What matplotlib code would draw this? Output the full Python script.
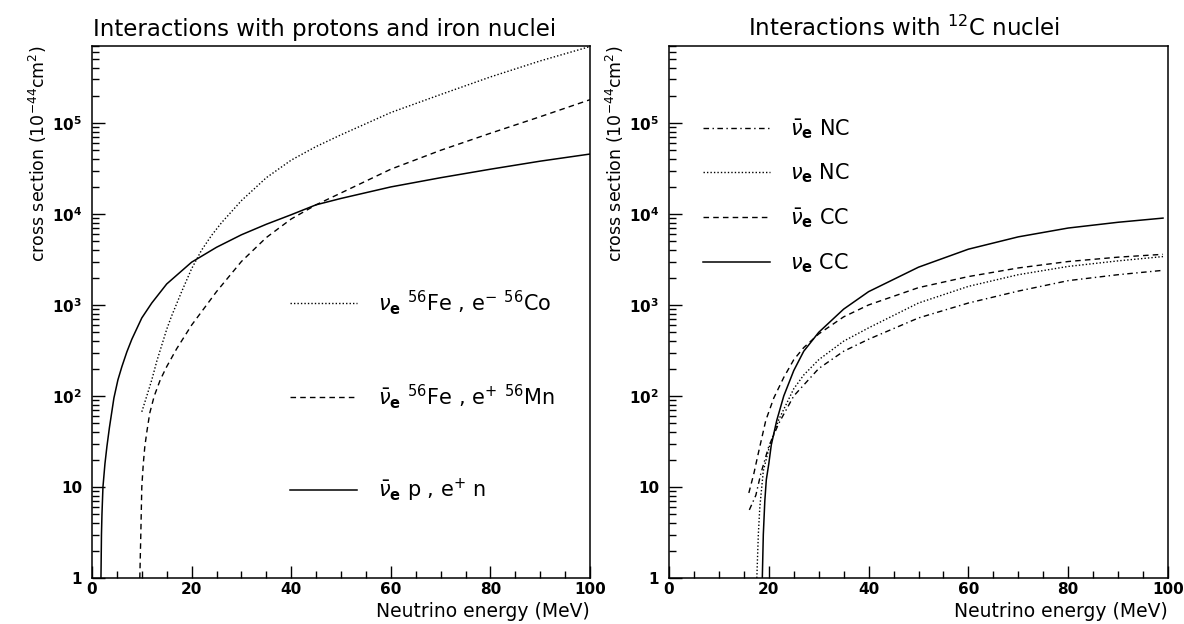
import matplotlib
matplotlib.use("Agg")
import matplotlib.pyplot as plt
from matplotlib.ticker import FixedLocator, FixedFormatter, MultipleLocator, LogLocator, NullFormatter

# ---------------- data (left panel) ----------------
e_nubar_p = [1.8, 1.9, 2.0, 2.2, 2.6, 3.0, 3.5, 4.4, 5.2, 6, 7, 8, 10, 12, 15, 20, 25, 30, 35, 40, 45, 50, 60, 70, 80, 90, 100]
s_nubar_p = [1, 3, 5, 10, 18, 28, 45, 95, 150, 210, 305, 420, 720, 1050, 1700, 2950, 4300, 5900, 7700, 9800, 12600, 14800, 19800, 25000, 31000, 38000, 45500]

e_nu_fe = [10.0, 11, 12, 13, 14, 15, 16, 18, 20, 22, 24, 26, 30, 35, 40, 45, 50, 60, 70, 80, 90, 100]
s_nu_fe = [67, 100, 150, 240, 360, 540, 760, 1400, 2500, 4000, 5800, 8000, 14000, 25000, 39000, 55000, 74000, 130000, 205000, 320000, 480000, 690000]

e_nubar_fe = [9.6, 9.8, 10.0, 10.3, 10.6, 11.0, 11.6, 12.5, 13.7, 15, 17, 20, 25, 30, 35, 40, 45, 50, 60, 70, 80, 90, 100]
s_nubar_fe = [1, 3, 10, 18, 27.6, 40, 65, 100, 150, 210, 330, 600, 1400, 3000, 5500, 8800, 12600, 17000, 31000, 50000, 77000, 117000, 180000]

# ---------------- data (right panel, 12C) ----------------
e_nue_cc = [18.7, 18.9, 19.2, 19.5, 20.0, 20.5, 21.6, 23, 25, 27, 30, 35, 40, 50, 60, 70, 80, 90, 99]
s_nue_cc = [1, 3, 7, 12, 18, 29, 54, 100, 190, 310, 500, 900, 1400, 2600, 4100, 5600, 7000, 8100, 9000]

e_nubar_cc = [16.0, 17.0, 17.9, 19.4, 21, 23, 25, 27, 30, 35, 40, 50, 60, 70, 80, 90, 99]
s_nubar_cc = [8.6, 14, 23.5, 54, 95, 160, 250, 340, 480, 740, 1000, 1550, 2050, 2550, 3000, 3350, 3600]

e_nue_nc = [17.6, 17.9, 18.2, 18.9, 20.2, 22, 25, 27, 30, 35, 40, 50, 60, 70, 80, 90, 99]
s_nue_nc = [1, 3, 6, 15, 29, 55, 120, 170, 250, 400, 560, 1050, 1600, 2150, 2650, 3050, 3400]

e_nubar_nc = [16.1, 17.4, 18.4, 20, 22, 25, 30, 35, 40, 50, 60, 70, 80, 90, 99]
s_nubar_nc = [5.6, 8.1, 14, 28, 50, 100, 200, 310, 420, 720, 1050, 1420, 1850, 2150, 2400]

# ---------------- labels ----------------
ytick_values = [1, 10, 100, 1000, 10000, 100000]
ytick_labels = ["1", "10", r"$\mathbf{10^{2}}$", r"$\mathbf{10^{3}}$", r"$\mathbf{10^{4}}$", r"$\mathbf{10^{5}}$"]
xtick_values = [0, 20, 40, 60, 80, 100]
xtick_labels = ["0", "20", "40", "60", "80", "100"]

left_labels = [r"$\nu_{\mathbf{e}}\ ^{56}$Fe , e$^{-}$ $^{56}$Co",
               r"$\bar{\nu}_{\mathbf{e}}\ ^{56}$Fe , e$^{+}$ $^{56}$Mn",
               r"$\bar{\nu}_{\mathbf{e}}$ p , e$^{+}$ n"]
right_labels = [r"$\bar{\nu}_{\mathbf{e}}$ NC", r"$\nu_{\mathbf{e}}$ NC",
                r"$\bar{\nu}_{\mathbf{e}}$ CC", r"$\nu_{\mathbf{e}}$ CC"]

plt.rcParams["font.family"] = ["DejaVu Sans"]
plt.rcParams["mathtext.fontset"] = "dejavusans"

fig = plt.figure(figsize=(11.84, 6.24), dpi=100)
W, H = 1184.0, 624.0
axL = fig.add_axes([92 / W, (H - 578) / H, 498 / W, 532 / H])
axR = fig.add_axes([669 / W, (H - 578) / H, 499 / W, 532 / H])

dotted = (0, (1, 1.5))
dashed = (0, (4, 3))
dashdot = (0, (4, 2.5, 1, 2.5))

l1, = axL.plot(e_nu_fe, s_nu_fe, color="black", lw=1.0, linestyle=dotted)
l2, = axL.plot(e_nubar_fe, s_nubar_fe, color="black", lw=1.0, linestyle=dashed)
l3, = axL.plot(e_nubar_p, s_nubar_p, color="black", lw=1.1, linestyle="-")

r1, = axR.plot(e_nubar_nc, s_nubar_nc, color="black", lw=1.0, linestyle=dashdot)
r2, = axR.plot(e_nue_nc, s_nue_nc, color="black", lw=1.0, linestyle=dotted)
r3, = axR.plot(e_nubar_cc, s_nubar_cc, color="black", lw=1.0, linestyle=dashed)
r4, = axR.plot(e_nue_cc, s_nue_cc, color="black", lw=1.1, linestyle="-")

for ax in (axL, axR):
    ax.set_yscale("log")
    ax.set_xlim(0, 100)
    ax.set_ylim(1, 7e5)
    ax.yaxis.set_major_locator(FixedLocator(ytick_values))
    ax.yaxis.set_major_formatter(FixedFormatter(ytick_labels))
    ax.yaxis.set_minor_locator(LogLocator(base=10, subs=range(2, 10), numticks=20))
    ax.yaxis.set_minor_formatter(NullFormatter())
    ax.xaxis.set_major_locator(FixedLocator(xtick_values))
    ax.xaxis.set_major_formatter(FixedFormatter(xtick_labels))
    ax.xaxis.set_minor_locator(MultipleLocator(5))
    ax.tick_params(axis="both", which="both", direction="in", top=False, right=False)
    ax.tick_params(axis="both", which="major", length=9, width=1.0, labelsize=11)
    ax.tick_params(axis="x", which="major", pad=3)
    ax.tick_params(axis="y", which="major", pad=7)
    ax.tick_params(axis="both", which="minor", length=5, width=1.0)
    for lab in ax.get_xticklabels() + ax.get_yticklabels():
        lab.set_fontweight("bold")
    for sp in ax.spines.values():
        sp.set_linewidth(1.1)
    ax.set_xlabel("Neutrino energy (MeV)", fontsize=13.5, loc="right")
    ax.xaxis.set_label_coords(1.0, -0.045)
    ax.set_ylabel(r"cross section (10$^{-44}$cm$^{2}$)", fontsize=12.5, loc="top")
    ax.yaxis.set_label_coords(-0.086, 1.0)

axL.set_title("Interactions with protons and iron nuclei", fontsize=16.5, pad=7, x=0.466)
axR.set_title(r"Interactions with $^{12}$C nuclei", fontsize=16.5, pad=7, x=0.47)

axL.legend([l1, l2, l3], left_labels, loc="upper left", bbox_to_anchor=(0.398, 0.545),
           frameon=False, fontsize=15, handlelength=3.2, handletextpad=1.0,
           labelspacing=3.14, borderpad=0, borderaxespad=0)
axR.legend([r1, r2, r3, r4], right_labels, loc="upper left", bbox_to_anchor=(0.068, 0.867),
           frameon=False, fontsize=15, handlelength=3.2, handletextpad=1.0,
           labelspacing=1.01, borderpad=0, borderaxespad=0)

fig.savefig("out.png", dpi=100)
